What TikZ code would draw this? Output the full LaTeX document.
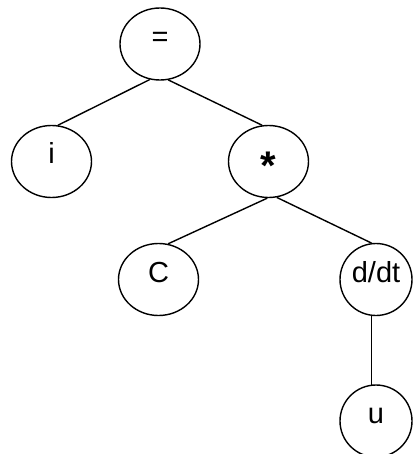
\documentclass[tikz,border=0pt]{standalone}
\usepackage{fontspec}
\setmainfont{Liberation Sans}
\usepackage{tikz}
\usetikzlibrary{shapes.geometric,calc}

\begin{document}
\begin{tikzpicture}[x=1pt,y=-1pt,
  term/.style={draw,ellipse,line width=1.4pt,inner sep=0pt,minimum width=80pt,minimum height=72pt,text height=5pt,text depth=0pt,font=\fontsize{29}{32}\selectfont},
  edge/.style={line width=1.4pt}]
\useasboundingbox (0,0) rectangle (412,454);
\node[term] (eq) at (160,44) {=};
\node[term] (i) at (51.5,161.5) {i};
\node[term] (star) at (268.5,161.5) {\raisebox{-16pt}{\fontsize{40}{40}\selectfont\bfseries *}};
\node[term] (C) at (158.5,279.5) {C};
\node[term,minimum width=72pt] (dt) at (376,279.5) {d/dt};
\node[term,minimum width=72pt] (u) at (376,421) {u};
\draw[edge] (eq.254) -- (i.80);
\draw[edge] (eq.283) -- (star.100);
\draw[edge] (star.268) -- (C.75);
\draw[edge] (star.283) -- (dt.97);
\draw[edge] (dt.263) -- (u.97);
\end{tikzpicture}
\end{document}
